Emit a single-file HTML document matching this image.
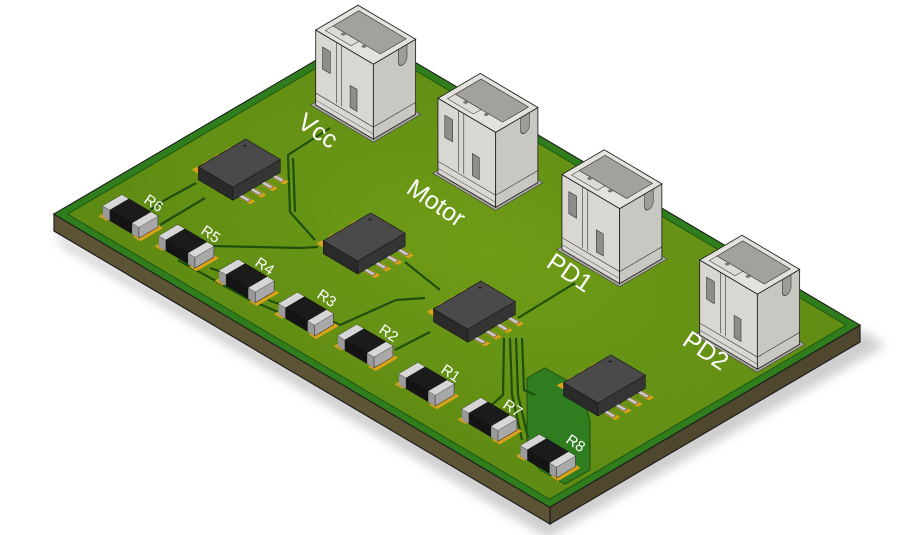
<!DOCTYPE html>
<html><head><meta charset="utf-8"><style>
html,body{margin:0;padding:0;background:#fff;width:907px;height:535px;overflow:hidden}
svg{display:block}
text{font-family:"Liberation Sans",sans-serif;fill:#fff}
</style></head><body>
<svg width="907" height="535" viewBox="0 0 907 535" xmlns="http://www.w3.org/2000/svg">
<defs>
<filter id="blur" x="-10%" y="-10%" width="120%" height="120%"><feGaussianBlur stdDeviation="5"/></filter>
<radialGradient id="pcb" cx="50%" cy="40%" r="70%">
<stop offset="0" stop-color="#6f9c16"/><stop offset="1" stop-color="#5f8b14"/></radialGradient>
<g id="res">
<rect x="-3" y="-2" width="9" height="26" fill="#d9a21a"/>
<rect x="37" y="-2" width="9" height="26" fill="#d9a21a"/>
<g transform="translate(0,22) matrix(1,0,0.986,0.985,0,0)">
<rect y="-11" width="42" height="11" fill="#141414"/>
<rect y="-11" width="8" height="11" fill="#9a9a9a"/>
<rect x="34" y="-11" width="8" height="11" fill="#9a9a9a"/></g>
<g transform="translate(42,0) matrix(0,1,0.986,0.985,0,0)">
<rect y="-11" width="22" height="11" fill="#a8a8a8" stroke="#222" stroke-width="0.6"/></g>
<g transform="translate(-10.8,-10.8)">
<rect width="42" height="22" fill="#1b1b1b" stroke="#111" stroke-width="0.6"/>
<rect width="8" height="22" fill="#d6d6d6"/>
<rect x="34" width="8" height="22" fill="#d6d6d6"/></g>
</g>
<g id="ic">
<rect x="-14" y="4" width="10" height="6" fill="#d9a21a"/>
<rect x="-14" y="17" width="10" height="6" fill="#d9a21a"/>
<rect x="-14" y="30" width="10" height="6" fill="#d9a21a"/>
<rect x="-14" y="43" width="10" height="6" fill="#d9a21a"/>
<rect x="42" y="4" width="12" height="6" fill="#d9a21a"/>
<rect x="42" y="17" width="12" height="6" fill="#d9a21a"/>
<rect x="42" y="30" width="12" height="6" fill="#d9a21a"/>
<rect x="42" y="43" width="12" height="6" fill="#d9a21a"/>
<g transform="translate(0,55) matrix(1,0,0.986,0.985,0,0)">
<rect y="-13" width="40" height="13" fill="#2a2a2a" stroke="#111" stroke-width="0.6"/></g>
<g transform="translate(40,0) matrix(0,1,0.986,0.985,0,0)">
<rect y="-13" width="55" height="13" fill="#353535" stroke="#111" stroke-width="0.6"/></g>
<rect x="40" y="5" width="10" height="4" fill="#c8c8c8" stroke="#333" stroke-width="0.5"/>
<rect x="40" y="18" width="10" height="4" fill="#c8c8c8" stroke="#333" stroke-width="0.5"/>
<rect x="40" y="31" width="10" height="4" fill="#c8c8c8" stroke="#333" stroke-width="0.5"/>
<rect x="40" y="44" width="10" height="4" fill="#c8c8c8" stroke="#333" stroke-width="0.5"/>
<g transform="translate(-12.8,-12.8)">
<rect width="40" height="55" fill="#4a4a4a" stroke="#1a1a1a" stroke-width="0.8"/>
<circle cx="6" cy="7" r="1.4" fill="#222"/></g>
</g>
<g id="con">
<rect x="-3" y="-3" width="73" height="55" fill="#a9a7a2" stroke="#333" stroke-width="0.6"/>
<g transform="translate(0,49) matrix(1,0,0.986,0.985,0,0)">
<rect y="-75" width="67" height="75" fill="#d9d7d2" stroke="#222" stroke-width="1"/>
<rect x="8" y="-62" width="9" height="22" fill="#8f8d89" stroke="#333" stroke-width="0.7"/>
<rect x="40" y="-40" width="8" height="22" fill="#8f8d89" stroke="#333" stroke-width="0.7"/>
<line x1="24" y1="-75" x2="24" y2="-14" stroke="#333" stroke-width="0.7"/>
<line x1="30" y1="-75" x2="30" y2="-14" stroke="#333" stroke-width="0.7"/>
<line x1="0" y1="-12" x2="67" y2="-12" stroke="#333" stroke-width="0.7"/>
<line x1="0" y1="-5" x2="67" y2="-5" stroke="#555" stroke-width="0.6"/></g>
<g transform="translate(67,0) matrix(0,1,0.986,0.985,0,0)">
<rect y="-75" width="49" height="75" fill="#c9c7c2" stroke="#222" stroke-width="1"/>
<path d="M10,-75 L10,-62 A5,5 0 0 0 20,-62 L20,-75" fill="#9e9c98" stroke="#333" stroke-width="0.7"/>
<line x1="0" y1="-12" x2="49" y2="-12" stroke="#333" stroke-width="0.7"/></g>
<g transform="translate(-73.9,-73.9)">
<rect width="67" height="49" fill="#e4e2de" stroke="#222" stroke-width="1"/>
<rect x="6" y="5" width="55" height="30" fill="#a3a19d" stroke="#333" stroke-width="0.7"/>
<rect x="6" y="35" width="30" height="9" fill="#dddbd6" stroke="#333" stroke-width="0.6"/>
<circle cx="20" cy="37" r="2" fill="#777"/><circle cx="44" cy="37" r="2" fill="#777"/></g>
</g>
</defs>

<polygon points="62,246 548,538 885,346 862,330 550,515 54,232" fill="#cfcfcf" filter="url(#blur)"/>

<polygon points="54,214 550,507 550,524 54,231" fill="#5d5436" stroke="#1e1e1e" stroke-width="1.2"/>
<polygon points="550,507 860,325 860,342 550,524" fill="#4f472e" stroke="#1e1e1e" stroke-width="1.2"/>

<g transform="matrix(0.861,0.509,-0.862,0.506,364,32)">
<rect x="0" y="0" width="576" height="360" fill="#2f7d1d" stroke="#1a1a1a" stroke-width="1.2"/>
<rect x="8" y="8" width="560" height="344" fill="url(#pcb)" stroke="#1f5a10" stroke-width="1.2"/>
</g>
<polygon points="527,378 545,368 580,388 590,420 590,470 565,484 540,470 527,455" fill="#2f7d1f" stroke="#1f5010" stroke-width="1"/>

<g fill="none" stroke="#1f4f0d" stroke-width="2.2" stroke-linejoin="round">
<path d="M330,128 L288,155 L290,212 L315,240"/>
<path d="M293,158 L295,212"/>
<path d="M196,183 L165,200 L150,210"/>
<path d="M205,198 L160,225"/>
<path d="M212,246 L300,248 L318,247"/>
<path d="M405,262 L440,290"/>
<path d="M330,320 L340,325 L396,300 L425,298"/>
<path d="M395,350 L430,332"/>
<path d="M518,318 L575,283"/>
<path d="M510,338 L512,395 L522,440"/>
<path d="M516,338 L518,395 L528,438"/>
<path d="M522,338 L524,390 L535,395"/>
<path d="M504,338 L503,395 L486,410"/>
<path d="M160,240 L175,246"/>
<path d="M210,268 L222,272"/>
<path d="M268,300 L282,305"/>
<path d="M178,260 L250,300 L278,312"/>
<path d="M520,450 L540,455"/>
</g>

<g transform="matrix(0.861,0.509,-0.862,0.506,364,32)">
<use href="#con" transform="translate(44,51)"/>
<use href="#con" transform="translate(182,47)"/>
<use href="#con" transform="translate(329,50)"/>
<use href="#con" transform="translate(493,54)"/>
<use href="#ic" transform="translate(50,187)"/>
<use href="#ic" transform="translate(195,187)"/>
<use href="#ic" transform="translate(326,190)"/>
<use href="#ic" transform="translate(474,187)"/>
<use href="#res" transform="translate(31,312)"/>
<use href="#res" transform="translate(93,309)"/>
<use href="#res" transform="translate(162,308)"/>
<use href="#res" transform="translate(229,306)"/>
<use href="#res" transform="translate(295,303)"/>
<use href="#res" transform="translate(368,305)"/>
<use href="#res" transform="translate(439,303)"/>
<use href="#res" transform="translate(509,305)"/>
</g>

<text font-size="25" transform="translate(296,126) rotate(34)">Vcc</text>
<text font-size="25" transform="translate(405,192) rotate(34)">Motor</text>
<text font-size="25" transform="translate(545,266) rotate(34)">PD1</text>
<text font-size="25" transform="translate(681,344) rotate(34)">PD2</text>
<text font-size="15" transform="translate(143,202) rotate(34)">R6</text>
<text font-size="15" transform="translate(200,233) rotate(34)">R5</text>
<text font-size="15" transform="translate(254,265) rotate(34)">R4</text>
<text font-size="15" transform="translate(316,297) rotate(34)">R3</text>
<text font-size="15" transform="translate(378,332) rotate(34)">R2</text>
<text font-size="15" transform="translate(440,372) rotate(34)">R1</text>
<text font-size="15" transform="translate(502,407) rotate(34)">R7</text>
<text font-size="15" transform="translate(565,442) rotate(34)">R8</text>
</svg>
</body></html>
